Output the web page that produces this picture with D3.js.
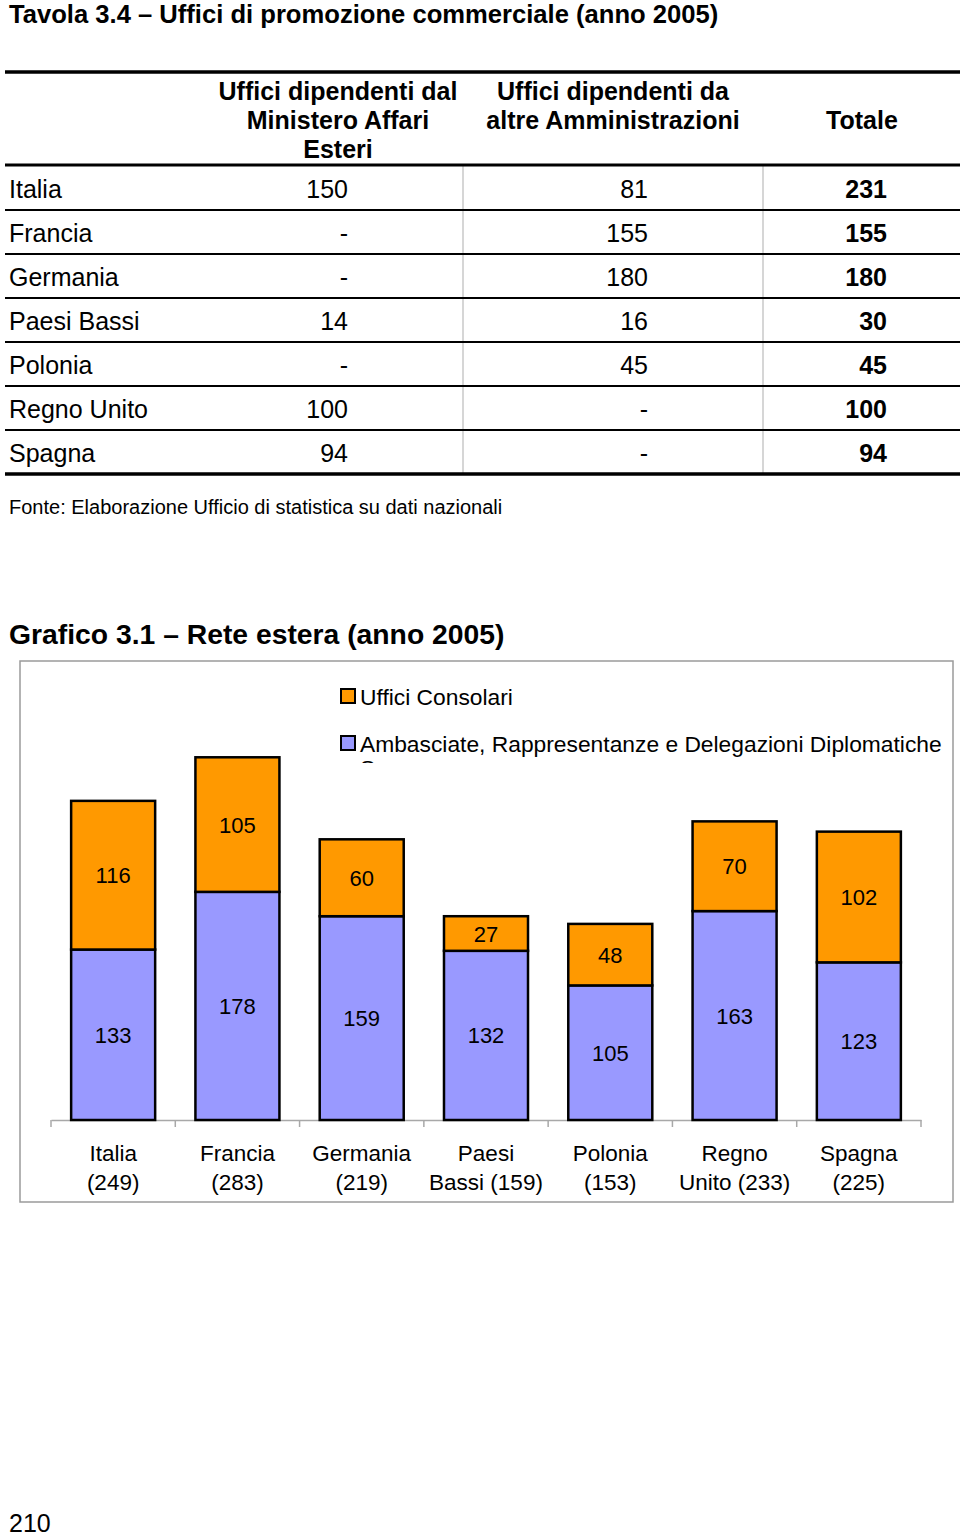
<!DOCTYPE html>
<html>
<head>
<meta charset="utf-8">
<script src="https://cdn.jsdelivr.net/npm/d3@7"></script>
<style>
  html, body { margin: 0; padding: 0; background: #fff; }
  svg { display: block; font-family: "Liberation Sans", Arial, Helvetica, sans-serif; }
</style>
</head>
<body>
<svg id="page" width="960" height="1538"></svg>
<script>
// ---------- DATA ----------
const tableTitle = "Tavola 3.4 \u2013 Uffici di promozione commerciale (anno 2005)";
const tableHeaders = [
  ["Uffici dipendenti dal", "Ministero Affari", "Esteri"],
  ["Uffici dipendenti da", "altre Amministrazioni"],
  ["Totale"]
];
const tableCountries = ["Italia", "Francia", "Germania", "Paesi Bassi", "Polonia", "Regno Unito", "Spagna"];
const ufficiMAE = [150, null, null, 14, null, 100, 94];
const ufficiAltre = [81, 155, 180, 16, 45, null, null];
const ufficiTotale = [231, 155, 180, 30, 45, 100, 94];
const tableSource = "Fonte: Elaborazione Ufficio di statistica su dati nazionali";

const chartTitle = "Grafico 3.1 \u2013 Rete estera (anno 2005)";
const categories = ["Italia", "Francia", "Germania", "Paesi Bassi", "Polonia", "Regno Unito", "Spagna"];
const ambasciate = [133, 178, 159, 132, 105, 163, 123];
const consolari = [116, 105, 60, 27, 48, 70, 102];
const seriesNames = ["Uffici Consolari", "Ambasciate, Rappresentanze e Delegazioni Diplomatiche"];
const seriesColors = ["#FF9900", "#9999FF"];
const pageNumber = "210";

// ---------- PAGE ----------
const svg = d3.select("#page");

// Table title
svg.append("text").attr("x", 9).attr("y", 23)
  .attr("font-size", 25.6).attr("font-weight", "bold").text(tableTitle);

// Table geometry
const tx = d3.scaleLinear().domain([0, 1]).range([5, 960]);
const rowY = d3.scaleBand().domain(tableCountries).range([166, 474]);

// vertical separators (light gray)
[463, 763].forEach(x => {
  svg.append("line").attr("x1", x).attr("x2", x).attr("y1", 166).attr("y2", 474)
    .attr("stroke", "#c8c8c8").attr("stroke-width", 1.5);
});

// header lines
svg.append("line").attr("x1", tx(0)).attr("x2", tx(1)).attr("y1", 72).attr("y2", 72)
  .attr("stroke", "#000").attr("stroke-width", 3.5);
svg.append("line").attr("x1", tx(0)).attr("x2", tx(1)).attr("y1", 165).attr("y2", 165)
  .attr("stroke", "#000").attr("stroke-width", 3);

// header texts
const headerX = [338, 613, 862];
const headerStart = [100, 100, 129];
tableHeaders.forEach((lines, i) => {
  const t = svg.append("text").attr("text-anchor", "middle")
    .attr("font-size", 25).attr("font-weight", "bold");
  lines.forEach((l, j) => {
    t.append("tspan").attr("x", headerX[i]).attr("y", headerStart[i] + j * 29).text(l);
  });
});

// rows
const fmt = v => (v === null ? "-" : String(v));
tableCountries.forEach((c, i) => {
  const y0 = rowY(c);
  const base = y0 + 32;
  svg.append("text").attr("x", 9).attr("y", base).attr("font-size", 25).text(c);
  svg.append("text").attr("x", 348).attr("y", base).attr("font-size", 25)
    .attr("text-anchor", "end").text(fmt(ufficiMAE[i]));
  svg.append("text").attr("x", 648).attr("y", base).attr("font-size", 25)
    .attr("text-anchor", "end").text(fmt(ufficiAltre[i]));
  svg.append("text").attr("x", 887).attr("y", base).attr("font-size", 25)
    .attr("font-weight", "bold").attr("text-anchor", "end").text(fmt(ufficiTotale[i]));
  const yb = y0 + rowY.bandwidth();
  const last = i === tableCountries.length - 1;
  svg.append("line").attr("x1", tx(0)).attr("x2", tx(1)).attr("y1", yb).attr("y2", yb)
    .attr("stroke", "#000").attr("stroke-width", last ? 3.5 : 2);
});

svg.append("text").attr("x", 9).attr("y", 514).attr("font-size", 20).text(tableSource);

// ---------- CHART ----------
svg.append("text").attr("x", 9).attr("y", 644)
  .attr("font-size", 28.3).attr("font-weight", "bold").text(chartTitle);

// chart frame
svg.append("rect").attr("x", 20).attr("y", 661).attr("width", 933).attr("height", 541)
  .attr("fill", "#fff").attr("stroke", "#9a9a9a").attr("stroke-width", 1.5);

// legend
const legendY = [705, 752];
seriesNames.forEach((name, i) => {
  svg.append("rect").attr("x", 341).attr("y", legendY[i] - 16).attr("width", 14).attr("height", 14)
    .attr("fill", seriesColors[i]).attr("stroke", "#000").attr("stroke-width", 2);
  svg.append("text").attr("x", 360).attr("y", legendY[i]).attr("font-size", 22.8).text(name);
});
// clipped remnant of a wrapped legend line
svg.append("clipPath").attr("id", "legclip")
  .append("rect").attr("x", 20).attr("y", 661).attr("width", 933).attr("height", 102);
svg.append("text").attr("x", 360).attr("y", 776).attr("font-size", 22.8)
  .attr("clip-path", "url(#legclip)").text("S");

// scales
const x = d3.scaleBand().domain(categories).range([51, 921])
  .paddingInner(0.324).paddingOuter(0.162);
const y = d3.scaleLinear().domain([0, 300]).range([1120, 735.5]);

const stackData = categories.map((c, i) => ({ cat: c, amb: ambasciate[i], cons: consolari[i] }));
const stack = d3.stack().keys(["amb", "cons"])(stackData);
const colorOf = { amb: seriesColors[1], cons: seriesColors[0] };

// axis line
const axisG = svg.append("g").attr("transform", "translate(0,1120)")
  .call(d3.axisBottom(x).tickSize(0).tickSizeOuter(0).tickFormat(""));
axisG.select(".domain").attr("stroke", "#a8a8a8").attr("stroke-width", 1.5);
// boundary ticks
d3.range(categories.length + 1).forEach(i => {
  const bx = x.range()[0] + i * x.step();
  svg.append("line").attr("x1", bx).attr("x2", bx).attr("y1", 1120).attr("y2", 1127)
    .attr("stroke", "#a8a8a8").attr("stroke-width", 1.5);
});

// bars
stack.forEach(layer => {
  const key = layer.key;
  svg.append("g").selectAll("rect").data(layer).join("rect")
    .attr("x", d => x(d.data.cat))
    .attr("width", x.bandwidth())
    .attr("y", d => y(d[1]))
    .attr("height", d => y(d[0]) - y(d[1]))
    .attr("fill", colorOf[key])
    .attr("stroke", "#000").attr("stroke-width", 2.5);
});
// labels
stack.forEach(layer => {
  svg.append("g").selectAll("text").data(layer).join("text")
    .attr("x", d => x(d.data.cat) + x.bandwidth() / 2)
    .attr("y", d => (y(d[0]) + y(d[1])) / 2 + 8)
    .attr("text-anchor", "middle").attr("font-size", 22)
    .text(d => d[1] - d[0]);
});

// category labels
categories.forEach((c, i) => {
  const total = ambasciate[i] + consolari[i];
  const parts = c.split(" ");
  const lines = parts.length > 1
    ? [parts[0], parts.slice(1).join(" ") + " (" + total + ")"]
    : [c, "(" + total + ")"];
  const t = svg.append("text").attr("text-anchor", "middle").attr("font-size", 22.5);
  lines.forEach((l, j) => {
    t.append("tspan").attr("x", x(c) + x.bandwidth() / 2).attr("y", 1161 + j * 29).text(l);
  });
});

// page number
svg.append("text").attr("x", 9).attr("y", 1532).attr("font-size", 25).text(pageNumber);
</script>
</body>
</html>
